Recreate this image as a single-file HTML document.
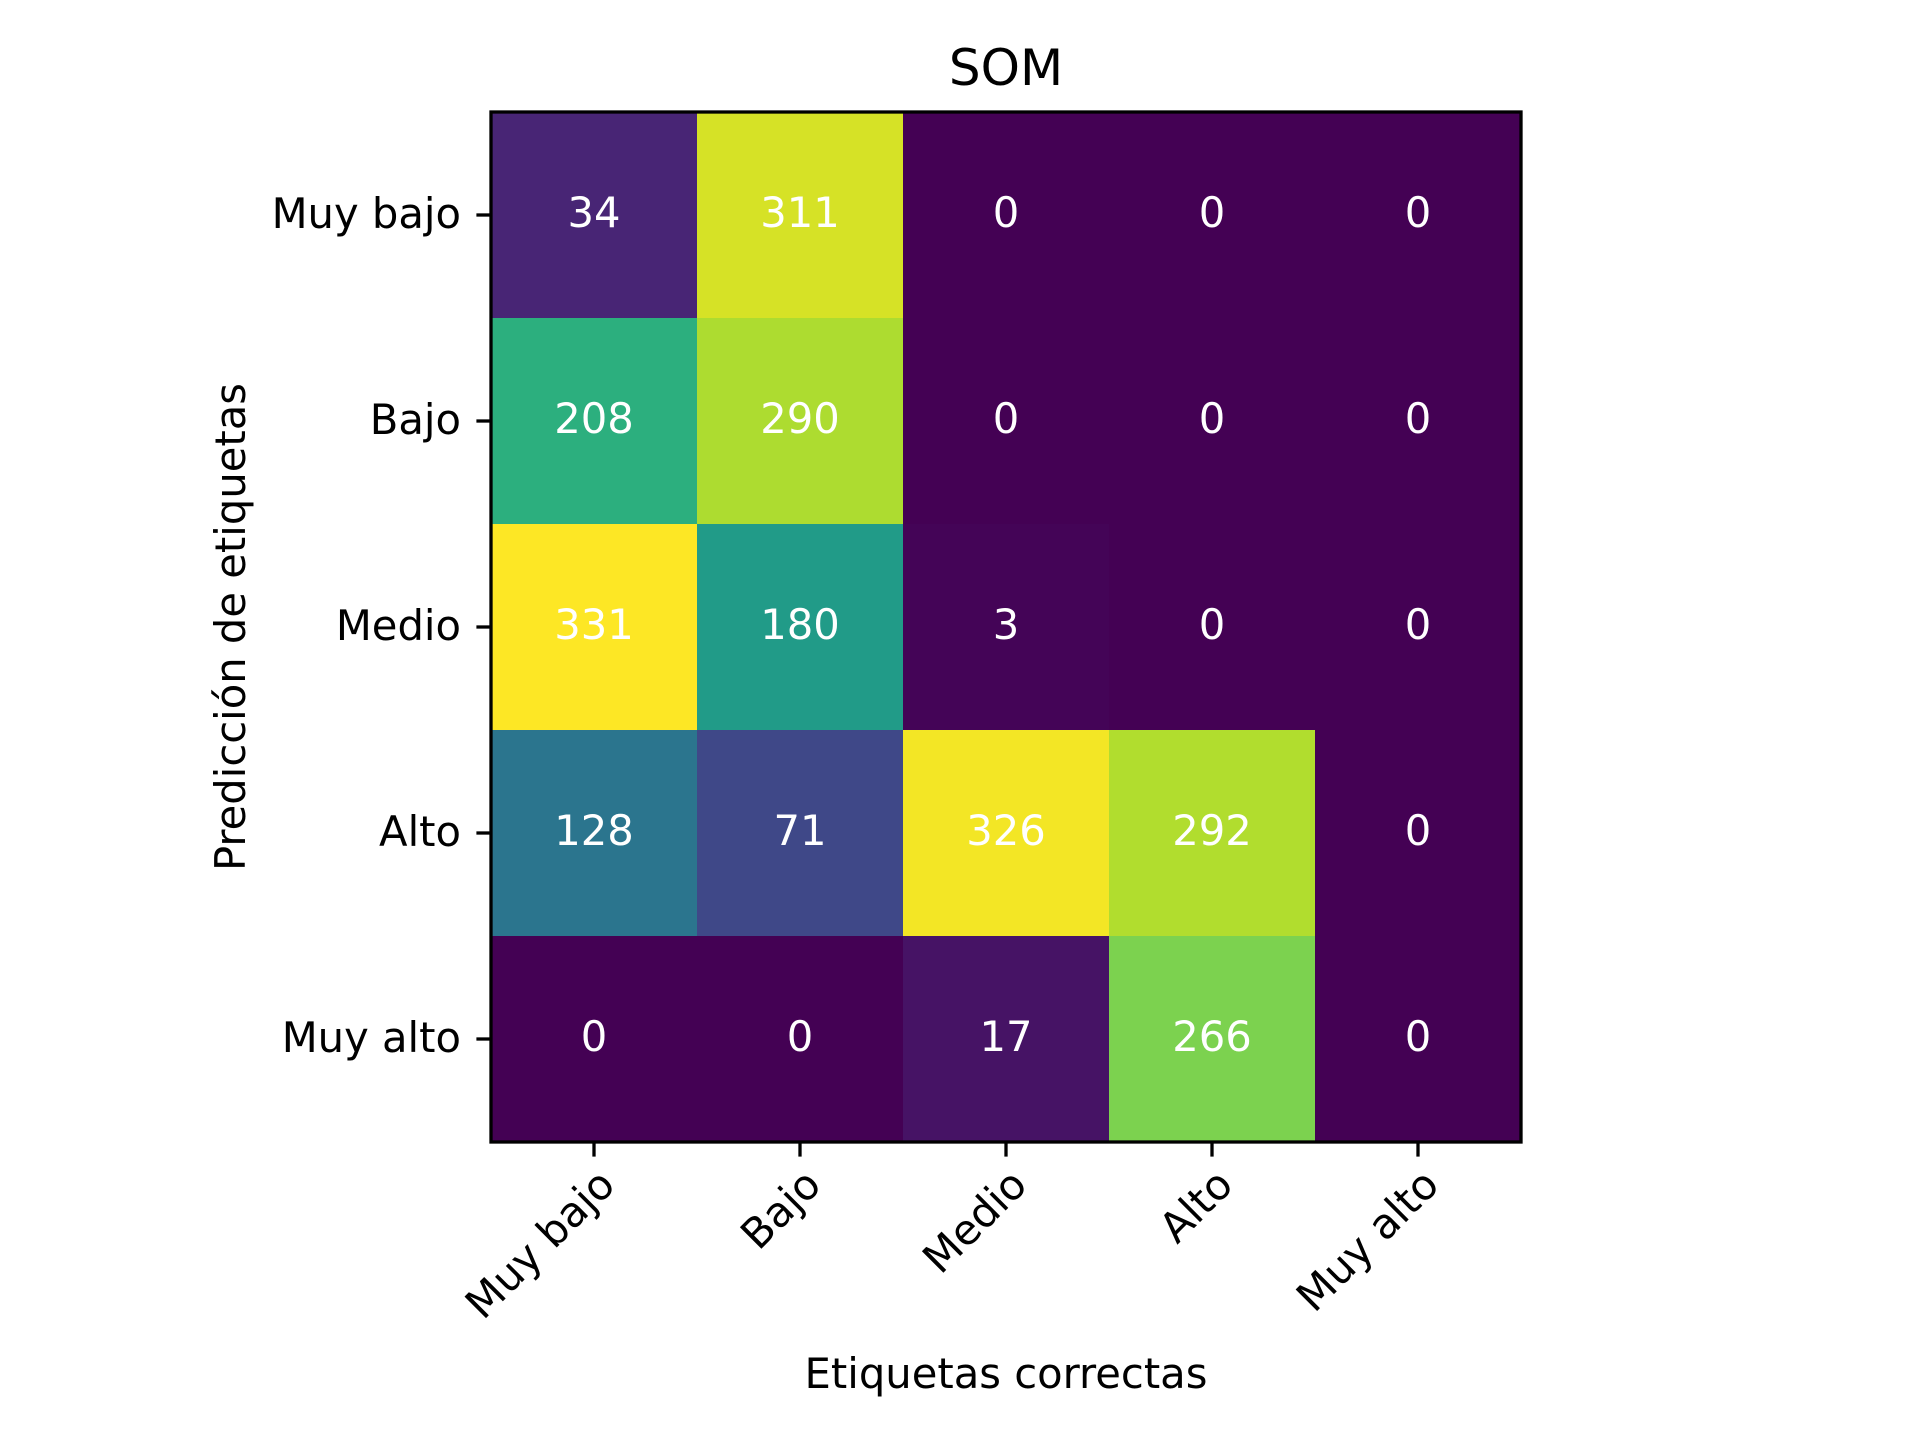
<!DOCTYPE html>
<html><head><meta charset="utf-8"><style>
html,body{margin:0;padding:0;background:#fff;}
svg{display:block;font-family:"DejaVu Sans","Liberation Sans",sans-serif;}
</style></head><body>
<svg id="chart" width="1920" height="1440" viewBox="0 0 1920 1440" xmlns="http://www.w3.org/2000/svg">
<rect width="1920" height="1440" fill="#fff"/>
<g id="cells"></g>
<g id="ticks"></g>
<rect x="491" y="112" width="1030" height="1030" fill="none" stroke="#000" stroke-width="3.3"/>
<text x="1006" y="85" font-size="50" text-anchor="middle">SOM</text>
<text x="1006" y="1388" font-size="41.7" text-anchor="middle">Etiquetas correctas</text>
<text x="245" y="627" font-size="41.7" text-anchor="middle" transform="rotate(-90 245 627)">Predicción de etiquetas</text>
</svg>
<script>
const categories = ["Muy bajo","Bajo","Medio","Alto","Muy alto"];
const row0 = [34,311,0,0,0];
const row1 = [208,290,0,0,0];
const row2 = [331,180,3,0,0];
const row3 = [128,71,326,292,0];
const row4 = [0,0,17,266,0];
const matrix = [row0,row1,row2,row3,row4];

const L=491,T=112,S=1030,n=categories.length,cs=S/n;
const xPos=i=>L+cs*(i+0.5), yPos=i=>T+cs*(i+0.5);
const vir=["#440154","#482475","#414487","#355f8d","#2a788e","#21918c","#22a884","#44bf70","#7ad151","#bddf26","#fde725"];
function hex(h){return [1,3,5].map(k=>parseInt(h.substr(k,2),16));}
function color(t){t=Math.max(0,Math.min(1,t));const p=t*10,i=Math.min(9,Math.floor(p)),f=p-i;const a=hex(vir[i]),b=hex(vir[i+1]);return "rgb("+a.map((v,k)=>Math.round(v+(b[k]-v)*f)).join(",")+")";}
const all=matrix.flat(),mn=Math.min(...all),mx=Math.max(...all);
const NS="http://www.w3.org/2000/svg";
const cells=document.getElementById("cells"),ticks=document.getElementById("ticks");
function mk(tag,attrs,parent){const e=document.createElementNS(NS,tag);for(const k in attrs)e.setAttribute(k,attrs[k]);parent.appendChild(e);return e;}
matrix.forEach((row,r)=>row.forEach((v,c)=>{
  const rc=mk("rect",{x:L+c*cs,y:T+r*cs,width:cs+0.5,height:cs+0.5,fill:color((v-mn)/(mx-mn))},cells);
  
  
  const t=mk("text",{x:xPos(c),y:yPos(r)+12,"font-size":41.7,fill:"#fff","text-anchor":"middle"},cells);
  t.textContent=v;
  
  
}));
categories.forEach((c,i)=>{
  const tx=mk("line",{x1:xPos(i),x2:xPos(i),y1:T+S,y2:T+S+14.6,stroke:"#000","stroke-width":3.3},ticks);
  
  
  const ax=xPos(i)+1,ay=1165;
  const lx=mk("text",{x:ax,y:ay,"font-size":41.7,"text-anchor":"end","dominant-baseline":"hanging",transform:"rotate(-45 "+ax+" "+ay+")"},ticks);
  lx.textContent=c;
  
  
  const ty=mk("line",{x1:L-14.6,x2:L,y1:yPos(i),y2:yPos(i),stroke:"#000","stroke-width":3.3},ticks);
  
  
  const ly=mk("text",{x:L-30,y:yPos(i)+13,"font-size":41.7,"text-anchor":"end"},ticks);
  ly.textContent=c;
  
  
});
</script>
</body></html>
